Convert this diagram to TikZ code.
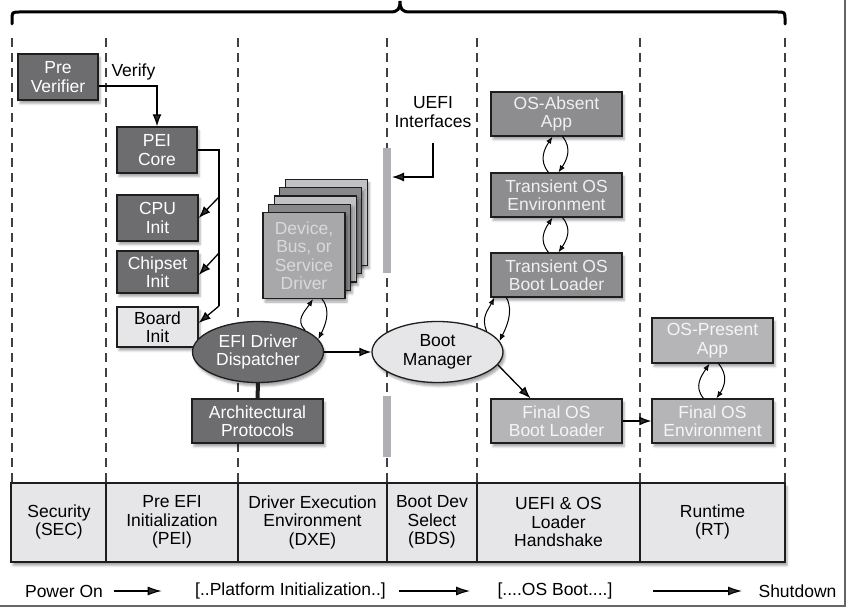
\documentclass[tikz,border=0pt]{standalone}
\usepackage{fontspec}
\setmainfont{Liberation Sans}
\usetikzlibrary{arrows.meta,shapes.geometric,shadows.blur}

\definecolor{peidark}{HTML}{6D6D70}
\definecolor{osmid}{HTML}{8D8D90}
\definecolor{ospale}{HTML}{B5B5B8}
\definecolor{lightfill}{HTML}{E6E6E8}
\definecolor{edge}{HTML}{1E1E1E}
\definecolor{ifgray}{HTML}{B0B0B4}
\definecolor{layerlight}{HTML}{C2C2C4}
\definecolor{layerdark}{HTML}{88888B}
\definecolor{drvfront}{HTML}{A8A8AA}

\tikzset{
  phase/.style={dash pattern=on 9pt off 6pt,line width=1.1pt,black!75},
  shade/.style={blur shadow={shadow xshift=2pt,shadow yshift=-3.5pt,shadow opacity=35}},
  box/.style={draw=edge,line width=1.3pt,inner sep=0pt,align=center,shade},
  darkbox/.style={box,fill=peidark,text=white,minimum width=81pt,minimum height=46pt},
  midbox/.style={box,fill=osmid,text=white!94!black,minimum width=131pt,minimum height=44pt},
  palebox/.style={box,fill=ospale,text=white!96!black,minimum width=131pt,minimum height=44pt},
  stackbox/.style={box,minimum width=82pt,minimum height=86pt},
  oval/.style={ellipse,box,minimum width=131pt,minimum height=61pt},
  arr/.style={-{Latex[length=12pt,width=9pt]},line width=1.3pt},
  flow/.style={-{Latex[length=14pt,width=9pt]},line width=1.1pt},
  cyc/.style={-{Latex[length=7pt,width=5.5pt]},line width=1pt},
  ifbar/.style={fill=ifgray},
  stage/.style={align=center}
}

\begin{document}
\begin{tikzpicture}[x=1pt,y=-1pt,>=Latex,font=\fontsize{17.5}{18.5}\selectfont]
  \useasboundingbox (0,0) rectangle (848,609);
  \draw[line width=1.5pt,black!60] (845,0) -- (845,606) -- (0,606);

  \draw[line width=3pt,line cap=round] (12,24) -- (12,20) .. controls (12,12) .. (20,12)
    -- (390,12) .. controls (398,12) and (400,9) .. (400,1)
    .. controls (400,9) and (402,12) .. (410,12) -- (777,12)
    .. controls (785,12) .. (785,20) -- (785,24);

  \foreach \x in {12,106,238,387,477,640,785}
    \draw[phase] (\x,38) -- (\x,483);
  \fill[ifbar] (383,148) rectangle (391,273);
  \fill[ifbar] (383,396) rectangle (391,457);

  \fill[lightfill,shade] (11,483) rectangle (785,562);
  \draw[line width=1.3pt,edge] (11,483) rectangle (785,562);
  \foreach \x in {106,238,387,477,640}
    \draw[line width=1.3pt,edge] (\x,483) -- (\x,562);
  \node[stage] (sec) at (59,522) {Security\\(SEC)};
  \node[stage] (pei) at (172,522) {Pre EFI\\Initialization\\(PEI)};
  \node[stage] (dxe) at (312.5,522) {Driver Execution\\Environment\\(DXE)};
  \node[stage] (bds) at (432,522) {Boot Dev\\Select\\(BDS)};
  \node[stage] (hand) at (558.5,522) {UEFI \& OS\\Loader\\Handshake};
  \node[stage] (rt) at (712.5,522) {Runtime\\(RT)};

  \node (powon) at (64,591) {Power On};
  \node (platinit) at (290.5,591) {[..Platform Initialization..]};
  \node (osboot) at (555,591) {[....OS Boot....]};
  \node (shutdown) at (797.5,591) {Shutdown};
  \draw[flow,shorten <=8pt,shorten >=30pt] (powon.east) -- (platinit.west);
  \draw[flow,shorten <=10pt,shorten >=24pt] (platinit.east) -- (osboot.west);
  \draw[flow,shorten <=37pt,shorten >=13pt] (osboot.east) -- (shutdown.west);

  \node[darkbox,minimum width=80pt] (prever) at (58,77) {Pre\\Verifier};
  \node[darkbox,minimum width=80pt] (peicore) at (157,150) {PEI\\Core};
  \node[darkbox] (cpuinit) at (157.5,218) {CPU\\Init};
  \node[darkbox,minimum height=42pt] (chipinit) at (157.5,272) {Chipset\\Init};
  \node[darkbox,fill=lightfill,text=black,minimum height=40pt] (boardinit) at (157.5,327) {Board\\Init};
  \node[anchor=west] (verify) at (108,72) {Verify};
  \draw[arr] ([yshift=-9pt]prever.east) -| (peicore.north);
  \coordinate (b1) at (219,197);
  \coordinate (b2) at (219,253);
  \coordinate (b3) at (219,306);
  \draw[line width=1.3pt] (peicore.east) -| (b3);
  \draw[arr] (b1) -- (cpuinit.east);
  \draw[arr] (b2) -- ([yshift=-3pt]chipinit.east);
  \draw[arr] (b3) -- ([yshift=4pt]boardinit.east);

  \foreach \k/\c in {4/layerlight,3/layerdark,2/layerlight,1/layerdark}
    \node[stackbox,fill=\c] at ({304+5.6*\k},{255.5-8.3*\k}) {};
  \node[stackbox,fill=drvfront,text=white!85!black] (drv) at (304,255.5) {Device,\\Bus, or\\Service\\Driver};

  \node[oval,fill=peidark,text=white] (dispatch) at (258,352) {EFI Driver\\Dispatcher};
  \node[darkbox,minimum width=131pt,minimum height=44pt] (archprot) at (257.5,421) {Architectural\\Protocols};
  \draw[line width=4pt,edge] (dispatch.south) -- (archprot.north);
  \draw[cyc] (dispatch.25) .. controls +(-10,-10) and +(-8,12) .. ([xshift=9pt]drv.south);
  \draw[cyc] ([xshift=18pt]drv.south) .. controls +(10,12) and +(6,-12) .. (dispatch.12);

  \node[oval,fill=lightfill,text=black] (bootmgr) at (437.5,352) {Boot\\Manager};
  \draw[arr] (dispatch.east) -- (bootmgr.west);

  \node[align=center] (uefi) at (433,112) {UEFI\\Interfaces};
  \coordinate (ifin) at (392,177);
  \draw[arr] ([yshift=-12pt]uefi.south) |- (ifin);

  \node[midbox] (osabsent) at (556.5,114) {OS-Absent\\App};
  \node[midbox] (transenv) at (556.5,195) {Transient OS\\Environment};
  \node[midbox] (transldr) at (556.5,275) {Transient OS\\Boot Loader};
  \node[palebox] (finalldr) at (556.5,421) {Final OS\\Boot Loader};
  \node[palebox,minimum width=121pt] (finalenv) at (712.5,421) {Final OS\\Environment};
  \node[palebox,minimum width=121pt,minimum height=45pt] (ospresent) at (712.5,340.5) {OS-Present\\App};

  \draw[cyc] ([xshift=-8pt]transenv.north) .. controls +(-10,-12) and +(-8,12) .. ([xshift=-4pt]osabsent.south);
  \draw[cyc] ([xshift=6pt]osabsent.south) .. controls +(10,12) and +(8,-12) .. ([xshift=2pt]transenv.north);
  \draw[cyc] ([xshift=-8pt]transldr.north) .. controls +(-10,-12) and +(-8,12) .. ([xshift=-4pt]transenv.south);
  \draw[cyc] ([xshift=6pt]transenv.south) .. controls +(10,12) and +(8,-12) .. ([xshift=2pt]transldr.north);
  \draw[cyc] (bootmgr.23) .. controls +(-6,-14) and +(-6,12) .. ([xshift=4pt]transldr.south west);
  \draw[cyc] ([xshift=16pt]transldr.south west) .. controls +(8,14) and +(6,-12) .. (bootmgr.10);
  \draw[cyc] ([xshift=-9pt]finalenv.north) .. controls +(-10,-12) and +(-8,12) .. ([xshift=-3pt]ospresent.south);
  \draw[cyc] ([xshift=6pt]ospresent.south) .. controls +(10,12) and +(8,-12) .. ([xshift=4pt]finalenv.north);

  \draw[arr] (bootmgr.-12) -- ([xshift=-26pt]finalldr.north);
  \draw[arr] (finalldr.east) -- (finalenv.west);
\end{tikzpicture}
\end{document}
